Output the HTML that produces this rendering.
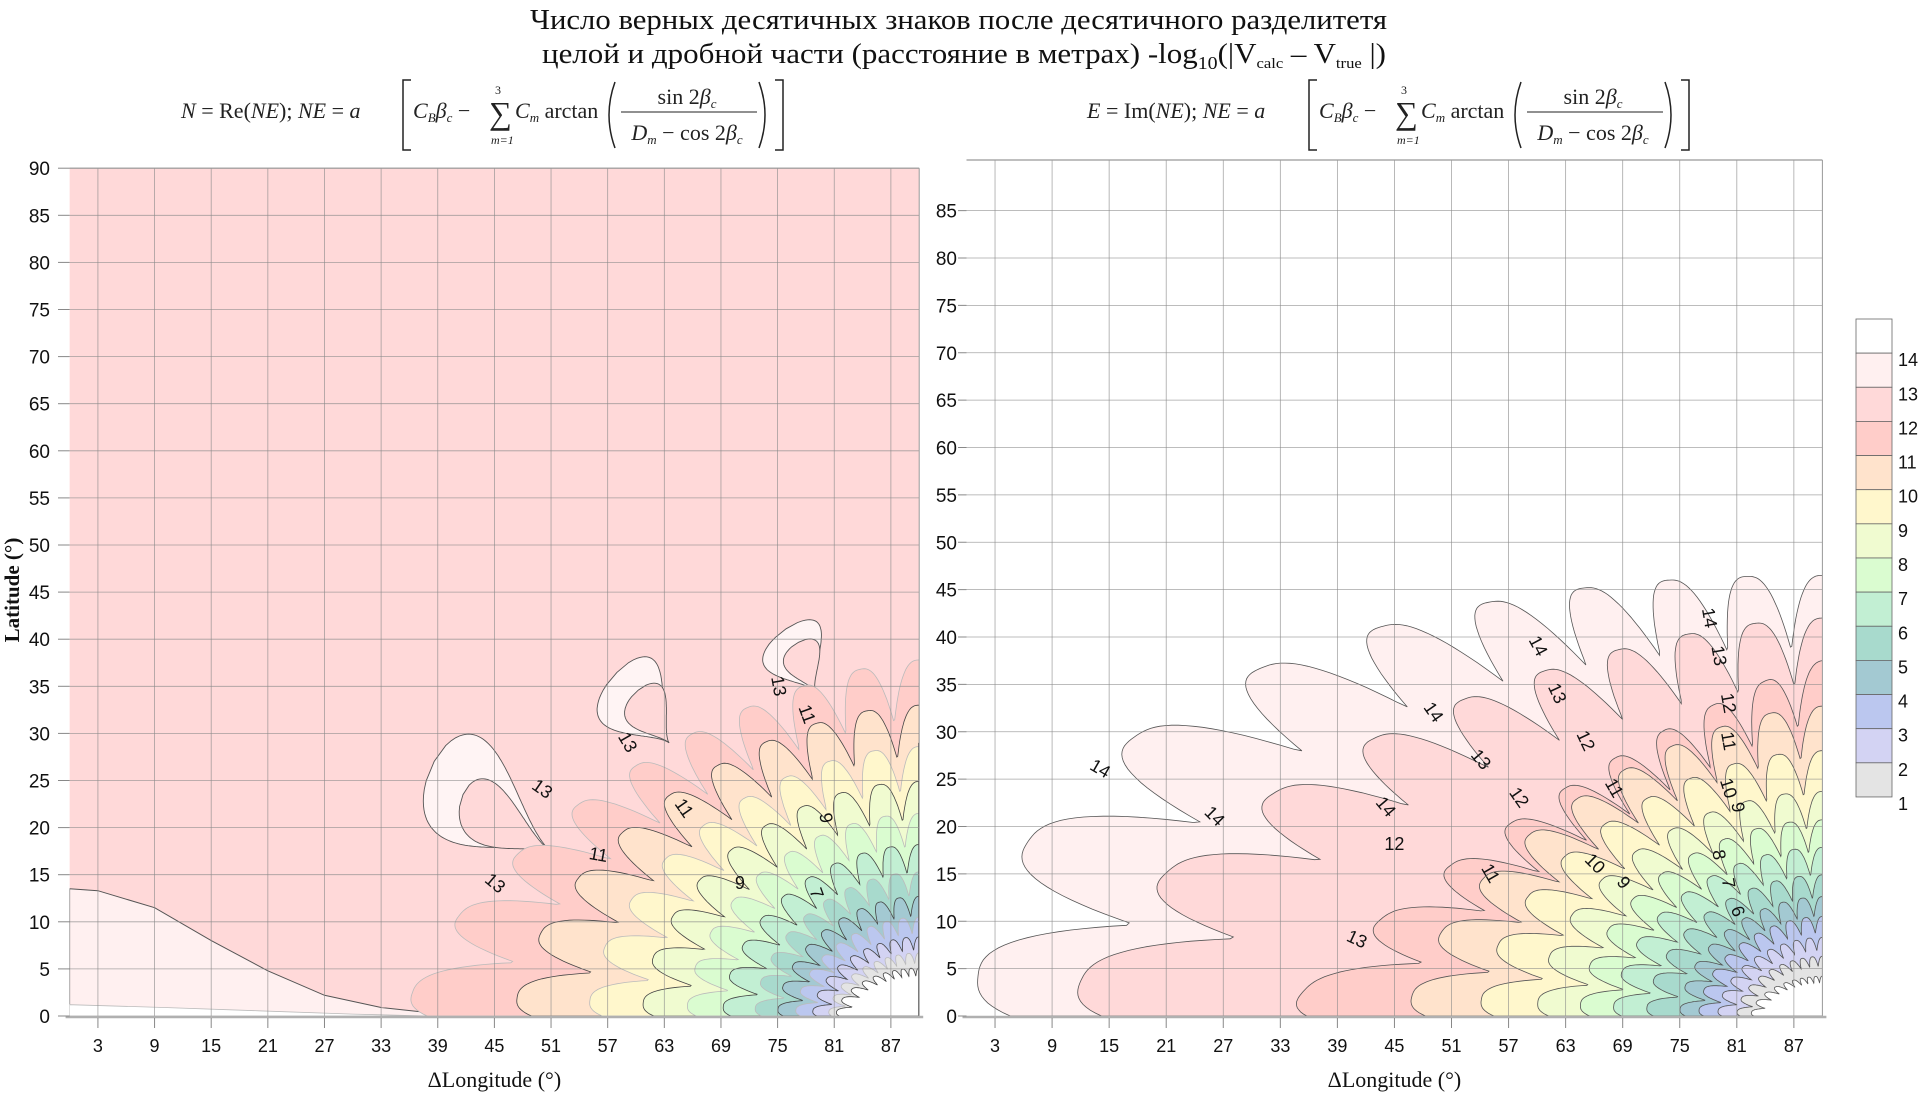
<!DOCTYPE html>
<html><head><meta charset="utf-8"><title>Contour chart</title>
<style>
html,body{margin:0;padding:0;background:#fff;}
svg{display:block;}
text{font-family:"Liberation Sans",sans-serif;}
text.serif,.serif text{font-family:"Liberation Serif",serif;}
</style></head>
<body>
<svg id="chart" width="1920" height="1093" viewBox="0 0 1920 1093" xmlns="http://www.w3.org/2000/svg">
  <defs>
    <clipPath id="clipL"><rect x="69.6" y="168" width="849.4" height="848"/></clipPath>
    <clipPath id="clipR"><rect x="966.5" y="160" width="855.5" height="856"/></clipPath>
  </defs>
  <g class="serif" fill="#111">
    <text x="530" y="29" font-size="28" textLength="857" lengthAdjust="spacingAndGlyphs">Число верных десятичных знаков после десятичного  разделитетя</text>
    <text x="542" y="63" font-size="28" textLength="844" lengthAdjust="spacingAndGlyphs">целой и дробной части  (расстояние в метрах) -log<tspan font-size="18" dy="6">10</tspan><tspan dy="-6">(|V</tspan><tspan font-size="15" dy="5">calc</tspan><tspan dy="-5"> – V</tspan><tspan font-size="15" dy="5">true</tspan><tspan dy="-5"> |)</tspan></text>
  </g>
  <g id="formulaL" class="serif"></g>
  <g id="formulaR" class="serif"></g>
  <g id="plotL"></g>
  <g id="plotR"></g>
  <g id="cbar"></g>
</svg>
<script>
// ---- data ----
const lonTicks = [3,9,15,21,27,33,39,45,51,57,63,69,75,81,87];
const latTicksL = [0,5,10,15,20,25,30,35,40,45,50,55,60,65,70,75,80,85,90];
const latTicksR = [0,5,10,15,20,25,30,35,40,45,50,55,60,65,70,75,80,85];
const cbarLabels = [14,13,12,11,10,9,8,7,6,5,4,3,2,1];
const bandColors = ['#ffffff','#e4e4e4','#d3d3f3','#bbc7ef','#a3c9d2','#a8dacd','#c2efd3','#dafcd0','#f0fbd0','#fff7cc','#ffe3cc','#ffcdc9','#ffd9d9','#fff0f0','#ffffff'];

const levelsR = [14,13,12,11,10,9,8,7,6,5,4,3,2,1];
const r_x0 = [1,11,33.5,46.5,54,60,64.5,68,71.5,75,77,79,81,82.5];
const r_b  = [46.5,42,37.5,32.7,28,23.7,20.7,17.8,14.9,12.6,10.5,8.3,6.3,4.2];
const r_shape = [2.2,1.6,1.2,1.6,1.8,1.9,1.9,1.9,1.9,1.9,1.9,1.9,1.9,1.9];
const levelsL = [12,11,10,9,8,7,6,5,4,3,2,1];
const l_x0 = [35.7,47.2,55,60.7,65.4,69.2,72.6,75,76.9,78.7,80.4,81.2];
const l_b  = [37.8,33,28.6,24.9,21.5,18.2,15.3,12.7,10.5,8.4,6.7,5.1];
const l_shape = [1.5,1.7,1.8,1.9,1.9,1.9,1.9,1.9,1.9,1.9,1.9,1.9];
const lowLon = [0,3,9,15,21,27,33,39,45];
const lowLat = [13.5,13.3,11.5,8,4.8,2.2,0.9,0.25,0];
const stripLon = [0,10,20,30,38];
const stripLat = [1.2,0.9,0.55,0.2,0];
const crTailLon = [51,63.5,79];
const crTailLat = [17.5,29,34.5];
const crHeadLon = [37.5,57,75];
const crHeadLat = [25,35.5,40.5];
const crInHeadLon = [41,59.5,76.5];
const crInHeadLat = [22,34,39.3];
const labR = [['14',14,26,30],['14',26,21,45],['14',49,32,55],['14',60,39,62],['14',78,42,80],['13',62,34,65],['13',79,38,80],['12',65,29,65],['12',80,33,80],['11',80,29,80],['10',80,24,72],['9',81,22,80],['8',79,17,80],['7',80,14,80],['6',81,11,70],['13',54,27,50],['12',58,23,55],['11',68,24,60],['10',66,16,45],['9',69,14,50],['11',55,15,60],['12',45,18,0],['14',44,22,50],['13',41,8,25]];
const labL = [['13',50,24,35],['13',59,29,60],['13',75,35,80],['11',78,32,70],['11',65,22,55],['9',80,21,80],['11',56,17,10],['9',71,14,0],['7',79,13,70],['13',45,14,40]];

// ---- helpers ----
const NS='http://www.w3.org/2000/svg';
function mk(tag, attrs, parent){const e=document.createElementNS(NS,tag);for(const k in attrs)e.setAttribute(k,attrs[k]);parent.appendChild(e);return e;}
const XL = lon => 69.6 + lon*9.44, YL = lat => 1016 - lat*9.42;
const XR = lon => 966.5 + lon*9.51, YR = lat => 1016 - lat*9.475;

function scallopPath(x0, b, p, X, Y){
  const Cx = X(90), Cy = Y(0);
  const A = Cx - X(x0), B = Cy - Y(b);
  const period = 9.7, depth = 0.17, N = 400;
  let d = 'M'+Cx+','+Cy;
  for(let i=0;i<=N;i++){
    const deg = 90*i/N, ph = deg*Math.PI/180;
    const c = Math.cos(ph), s = Math.sin(ph);
    const R = 1/Math.pow(Math.pow(c/A,p)+Math.pow(s/B,p),1/p);
    const r = 1 - depth*Math.pow(1-Math.abs(Math.cos(Math.PI*(90-deg)/period)),1.4);
    d += ' L'+(Cx-c*R*r).toFixed(1)+','+(Cy-s*R*r).toFixed(1);
  }
  return d+' Z';
}
function teardrop(tx,ty,hx,hy,w,bend){
  const vx=hx-tx, vy=hy-ty, L=Math.hypot(vx,vy), ex=vx/L, ey=vy/L, nx=-ey, ny=ex;
  const pts1=[],pts2=[];
  for(let i=0;i<=60;i++){
    const s=i/60, hw=w*Math.pow(s,1.5)*Math.sqrt(Math.max(1-s,0))/0.325, off=bend*L*s*s;
    const bx=tx+ex*L*s+nx*off, by=ty+ey*L*s+ny*off;
    pts1.push([bx+nx*hw,by+ny*hw]); pts2.push([bx-nx*hw,by-ny*hw]);
  }
  const all=pts1.concat(pts2.reverse());
  return 'M'+all.map(q=>q[0].toFixed(1)+','+q[1].toFixed(1)).join(' L')+' Z';
}

function axes(g, X, Y, latTicks, top, labelRight, yTicksX){
  const grid = mk('g',{},g);
  
  
  lonTicks.forEach(t=>{ mk('line',{x1:X(t),x2:X(t),y1:top,y2:Y(0),stroke:'#8a8a8a','stroke-width':0.8,'stroke-opacity':0.75},grid); });
  latTicks.forEach(t=>{ if(t>0) mk('line',{x1:X(0),x2:X(90),y1:Y(t),y2:Y(t),stroke:'#8a8a8a','stroke-width':0.8,'stroke-opacity':0.75},grid); });
  mk('line',{x1:X(0),x2:X(90),y1:top,y2:top,stroke:'#999','stroke-width':1.2},g);
  mk('line',{x1:X(90),x2:X(90),y1:top,y2:Y(0),stroke:'#999','stroke-width':1},g);
  mk('line',{x1:X(0)-4,x2:X(90)+4,y1:Y(0)+1,y2:Y(0)+1,stroke:'#b0b0b0','stroke-width':2.5},g);
  lonTicks.forEach(t=>{
    mk('line',{x1:X(t),x2:X(t),y1:Y(0)+2,y2:Y(0)+12,stroke:'#888','stroke-width':1},g);
    const tx = mk('text',{x:X(t),y:Y(0)+36,'font-size':18,'text-anchor':'middle',fill:'#111'},g);
    tx.textContent=t;
    
    
  });
  latTicks.forEach(t=>{
    mk('line',{x1:yTicksX,x2:X(0),y1:Y(t),y2:Y(t),stroke:'#888','stroke-width':1},g);
    const ty = mk('text',{x:labelRight,y:Y(t)+7,'font-size':19,'text-anchor':'end',fill:'#111'},g);
    ty.textContent=t;
    
    
  });
}
function labels(g, arr, X, Y){
  arr.forEach(a=>{
    const t=mk('text',{x:X(a[1]),y:Y(a[2]),'font-size':18,'text-anchor':'middle','dominant-baseline':'middle',fill:'#111',transform:'rotate('+a[3]+' '+X(a[1])+' '+Y(a[2])+')'},g);
    t.textContent=a[0];
    
    
  });
}

// ---- left plot ----
const gL = document.getElementById('plotL');
const fL = mk('g',{'clip-path':'url(#clipL)'},gL);


mk('rect',{x:XL(0),y:YL(90),width:XL(90)-XL(0),height:YL(0)-YL(90),fill:'#ffd9d9'},fL);
let dLow='M'+XL(0)+','+YL(0);
lowLon.forEach((v,i)=>{ dLow+=' L'+XL(v).toFixed(1)+','+YL(lowLat[i]).toFixed(1); });
const low = mk('path',{d:dLow+' Z',fill:'#fff0f0',stroke:'#555','stroke-width':1},fL);


let dStrip='M'+XL(0)+','+YL(0);
stripLon.forEach((v,i)=>{ dStrip+=' L'+XL(v).toFixed(1)+','+YL(stripLat[i]).toFixed(1); });
mk('path',{d:dStrip+' Z',fill:'#ffffff',stroke:'#bbb','stroke-width':0.8},fL);
crTailLon.forEach((v,i)=>{
  const outer = mk('path',{d:teardrop(XL(v),YL(crTailLat[i]),XL(crHeadLon[i]),YL(crHeadLat[i]),[52,40,34][i],0.15),fill:'#fff4f4',stroke:'#555','stroke-width':0.9},fL);
  
  
  mk('path',{d:teardrop(XL(v),YL(crTailLat[i]),XL(crInHeadLon[i]),YL(crInHeadLat[i]),[30,24,20][i],0.15),fill:'#ffd9d9',stroke:'#555','stroke-width':0.9},fL);
});
levelsL.forEach((k,i)=>{
  const p = mk('path',{d:scallopPath(l_x0[i],l_b[i],l_shape[i],XL,YL),fill:bandColors[k-1],stroke:(k%2? '#444':'#bbb'),'stroke-width':0.8},fL);
  
  
});
mk('line',{x1:XL(90),x2:XL(90),y1:YL(0),y2:YL(29),stroke:'#333','stroke-width':2},fL);
axes(gL, XL, YL, latTicksL, YL(90), 50, 58);
labels(gL, labL, XL, YL);

// ---- right plot ----
const gR = document.getElementById('plotR');
const fR = mk('g',{'clip-path':'url(#clipR)'},gR);


levelsR.forEach((k,i)=>{
  const p = mk('path',{d:scallopPath(r_x0[i],r_b[i],r_shape[i],XR,YR),fill:bandColors[k-1],stroke:'#555','stroke-width':0.8},fR);
  
  
});
axes(gR, XR, YR, latTicksR, 160, 957, 958);
labels(gR, labR, XR, YR);

// axis titles
[[XL(45),'left-x-axis-title'],[XR(45),'right-x-axis-title']].forEach(a=>{
  const t=mk('text',{x:a[0],y:1087,'font-size':22,'text-anchor':'middle',fill:'#111','class':'serif'},document.getElementById('chart'));
  t.textContent='ΔLongitude  (°)';
  
  
});
const yt=mk('text',{x:0,y:0,'font-size':21,'text-anchor':'middle',fill:'#111','class':'serif','font-weight':'bold',transform:'translate(19,590) rotate(-90)'},document.getElementById('chart'));
yt.textContent='Latitude (°)';



// ---- colorbar ----
const gC = document.getElementById('cbar');
const cTop=319, cH=34.14;
for(let i=0;i<14;i++){
  const r = mk('rect',{x:1856,y:cTop+i*cH,width:36,height:cH,fill:bandColors[14-i],stroke:'#666','stroke-width':0.8},gC);
  
  
}
cbarLabels.forEach((v,i)=>{
  const t=mk('text',{x:1898,y:cTop+(i+1)*cH+13,'font-size':18,fill:'#111'},gC);
  t.textContent=v;
  
  
});

// ---- formulas ----
function formula(g, x0, lhs){
  const s = {fill:'#222'};
  const t1 = mk('text',Object.assign({x:x0,y:118,'font-size':22,'font-style':'italic'},s),g);
  t1.innerHTML = lhs+' <tspan font-style="normal">=</tspan> '+(lhs[0]==='N'?'<tspan font-style="normal">Re</tspan>':'<tspan font-style="normal">Im</tspan>')+'<tspan font-style="normal">(</tspan>NE<tspan font-style="normal">);</tspan>   NE <tspan font-style="normal">=</tspan> a';
  const bx = x0+222;
  mk('path',{d:`M${bx+8},80 L${bx},80 L${bx},150 L${bx+8},150`,stroke:'#222',fill:'none','stroke-width':1.5},g);
  const t2 = mk('text',Object.assign({x:bx+10,y:118,'font-size':22,'font-style':'italic'},s),g);
  t2.innerHTML='C<tspan font-size="13" dy="4">B</tspan><tspan dy="-4">β</tspan><tspan font-size="13" dy="4">c</tspan><tspan dy="-4" font-style="normal"> − </tspan>';
  const sx = bx+86;
  mk('text',Object.assign({x:sx,y:124,'font-size':32},s),g).textContent='∑';
  mk('text',Object.assign({x:sx+6,y:94,'font-size':12},s),g).textContent='3';
  mk('text',Object.assign({x:sx+2,y:144,'font-size':12,'font-style':'italic'},s),g).textContent='m=1';
  const t3 = mk('text',Object.assign({x:sx+26,y:118,'font-size':22,'font-style':'italic'},s),g);
  t3.innerHTML='C<tspan font-size="13" dy="4">m</tspan><tspan dy="-4" font-style="normal"> arctan</tspan>';
  const px = sx+118;
  mk('path',{d:`M${px+8},82 Q${px-4},115 ${px+8},148`,stroke:'#222',fill:'none','stroke-width':1.5},g);
  mk('text',Object.assign({x:px+80,y:104,'font-size':22,'text-anchor':'middle'},s),g).innerHTML='sin 2<tspan font-style="italic">β</tspan><tspan font-size="13" dy="4" font-style="italic">c</tspan>';
  mk('line',{x1:px+14,x2:px+150,y1:112,y2:112,stroke:'#222','stroke-width':1},g);
  mk('text',Object.assign({x:px+80,y:140,'font-size':22,'text-anchor':'middle'},s),g).innerHTML='<tspan font-style="italic">D</tspan><tspan font-size="13" dy="4" font-style="italic">m</tspan><tspan dy="-4"> − cos 2</tspan><tspan font-style="italic">β</tspan><tspan font-size="13" dy="4" font-style="italic">c</tspan>';
  mk('path',{d:`M${px+152},82 Q${px+164},115 ${px+152},148`,stroke:'#222',fill:'none','stroke-width':1.5},g);
  mk('path',{d:`M${px+168},80 L${px+176},80 L${px+176},150 L${px+168},150`,stroke:'#222',fill:'none','stroke-width':1.5},g);
}
formula(document.getElementById('formulaL'), 181, 'N');
formula(document.getElementById('formulaR'), 1087, 'E');
</script>
</body></html>
